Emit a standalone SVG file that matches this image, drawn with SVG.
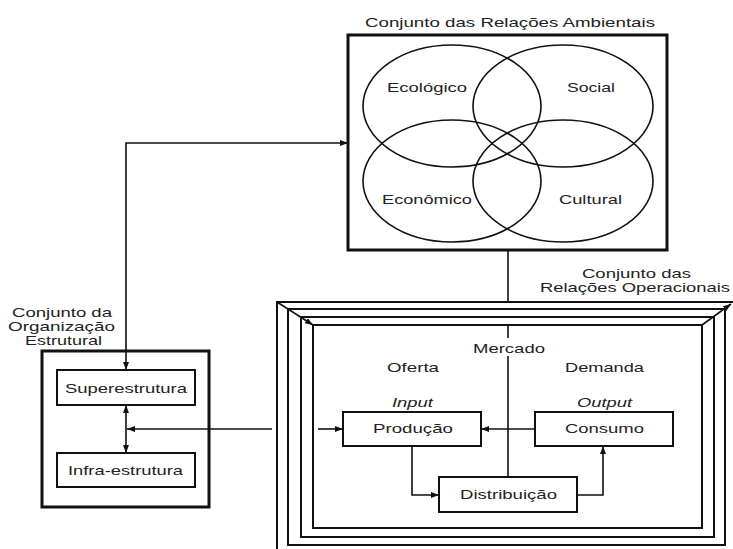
<svg xmlns="http://www.w3.org/2000/svg" width="733" height="549" viewBox="0 0 733 549">
<defs>
<marker id="ah" viewBox="0 0 8 6" refX="8" refY="3" markerWidth="8" markerHeight="6" markerUnits="userSpaceOnUse" orient="auto-start-reverse">
<path d="M0,0 L8,3 L0,6 z" fill="#111"/>
</marker>
<style>
text{font-family:"Liberation Sans",Arial,sans-serif;font-size:13.5px;fill:#222}
.it{font-style:italic}
.box{fill:#fff;stroke:#111;stroke-width:2}
.thick{fill:#fff;stroke:#111;stroke-width:3}
.frame{fill:none;stroke:#111;stroke-width:2}
.ell{fill:none;stroke:#111;stroke-width:1.6}
.con{fill:none;stroke:#111;stroke-width:1.6}
.arr{fill:none;stroke:#111;stroke-width:1.6;marker-end:url(#ah)}
.arr2{fill:none;stroke:#111;stroke-width:1.6;marker-end:url(#ah);marker-start:url(#ah)}
</style>
</defs>
<rect width="733" height="549" fill="#fff"/>

<g id="ambientais">
<text x="365" y="27" textLength="290" lengthAdjust="spacingAndGlyphs">Conjunto das Relações Ambientais</text>
<rect class="thick" x="348" y="35" width="319" height="215"/>
<ellipse class="ell" cx="452" cy="106" rx="89" ry="61"/>
<ellipse class="ell" cx="563" cy="106" rx="90" ry="61"/>
<ellipse class="ell" cx="452" cy="181" rx="89" ry="61"/>
<ellipse class="ell" cx="563" cy="181" rx="90" ry="61"/>
<text x="387" y="92" textLength="80" lengthAdjust="spacingAndGlyphs">Ecológico</text>
<text x="567" y="92" textLength="48" lengthAdjust="spacingAndGlyphs">Social</text>
<text x="382" y="204" textLength="90" lengthAdjust="spacingAndGlyphs">Econômico</text>
<text x="559" y="204" textLength="63" lengthAdjust="spacingAndGlyphs">Cultural</text>
</g>

<g id="organizacao">
<text x="12" y="317" textLength="100" lengthAdjust="spacingAndGlyphs">Conjunto da</text>
<text x="8" y="331" textLength="107" lengthAdjust="spacingAndGlyphs">Organização</text>
<text x="25" y="345" textLength="77" lengthAdjust="spacingAndGlyphs">Estrutural</text>
<rect class="thick" x="42" y="351" width="167" height="156"/>
</g>
<g id="superestrutura">
<rect class="box" x="57" y="370" width="138" height="35"/>
<text x="65" y="393" textLength="122" lengthAdjust="spacingAndGlyphs">Superestrutura</text>
</g>
<g id="infraestrutura">
<rect class="box" x="57" y="453" width="138" height="34"/>
<text x="68" y="475" textLength="115" lengthAdjust="spacingAndGlyphs">Infra-estrutura</text>
</g>

<g id="operacionais">
<text x="582" y="278" textLength="109" lengthAdjust="spacingAndGlyphs">Conjunto das</text>
<text x="540" y="292" textLength="190" lengthAdjust="spacingAndGlyphs">Relações Operacionais</text>
<rect class="frame" x="277" y="302" width="470" height="260" stroke-width="3"/>
<rect class="frame" x="288" y="309" width="437" height="236"/>
<rect class="frame" x="301" y="317" width="413" height="220"/>
<rect class="frame" x="313" y="325" width="389" height="203"/>
<line class="arr" x1="277" y1="302" x2="313" y2="325"/>
<line class="arr" x1="702" y1="325" x2="731" y2="304"/>
<text x="473" y="353" textLength="72" lengthAdjust="spacingAndGlyphs">Mercado</text>
<text x="387" y="372" textLength="52" lengthAdjust="spacingAndGlyphs">Oferta</text>
<text x="565" y="372" textLength="79" lengthAdjust="spacingAndGlyphs">Demanda</text>
<text class="it" x="392" y="407" textLength="41" lengthAdjust="spacingAndGlyphs">Input</text>
<text class="it" x="577" y="407" textLength="55" lengthAdjust="spacingAndGlyphs">Output</text>
</g>
<g id="producao">
<rect class="box" x="343" y="412" width="138" height="34"/>
<text x="373" y="433" textLength="80" lengthAdjust="spacingAndGlyphs">Produção</text>
</g>
<g id="consumo">
<rect class="box" x="535" y="412" width="138" height="34"/>
<text x="565" y="433" textLength="79" lengthAdjust="spacingAndGlyphs">Consumo</text>
</g>
<g id="distribuicao">
<rect class="box" x="439" y="477" width="138" height="35"/>
<text x="460" y="499" textLength="97" lengthAdjust="spacingAndGlyphs">Distribuição</text>
</g>

<g id="connectors">
<polyline class="arr2" points="348,143 126,143 126,370"/>
<line class="arr2" x1="126" y1="405" x2="126" y2="453"/>
<line class="arr" x1="272" y1="429" x2="127" y2="429"/>
<line class="con" x1="508" y1="250" x2="508" y2="302"/>
<line class="con" x1="508" y1="326" x2="508" y2="338"/>
<line class="con" x1="508" y1="356" x2="508" y2="477"/>
<line class="arr" x1="318" y1="429" x2="343" y2="429"/>
<line class="arr" x1="535" y1="429" x2="481" y2="429"/>
<polyline class="arr" points="412,446 412,495 439,495"/>
<polyline class="arr" points="577,495 603,495 603,446"/>
</g>
</svg>
